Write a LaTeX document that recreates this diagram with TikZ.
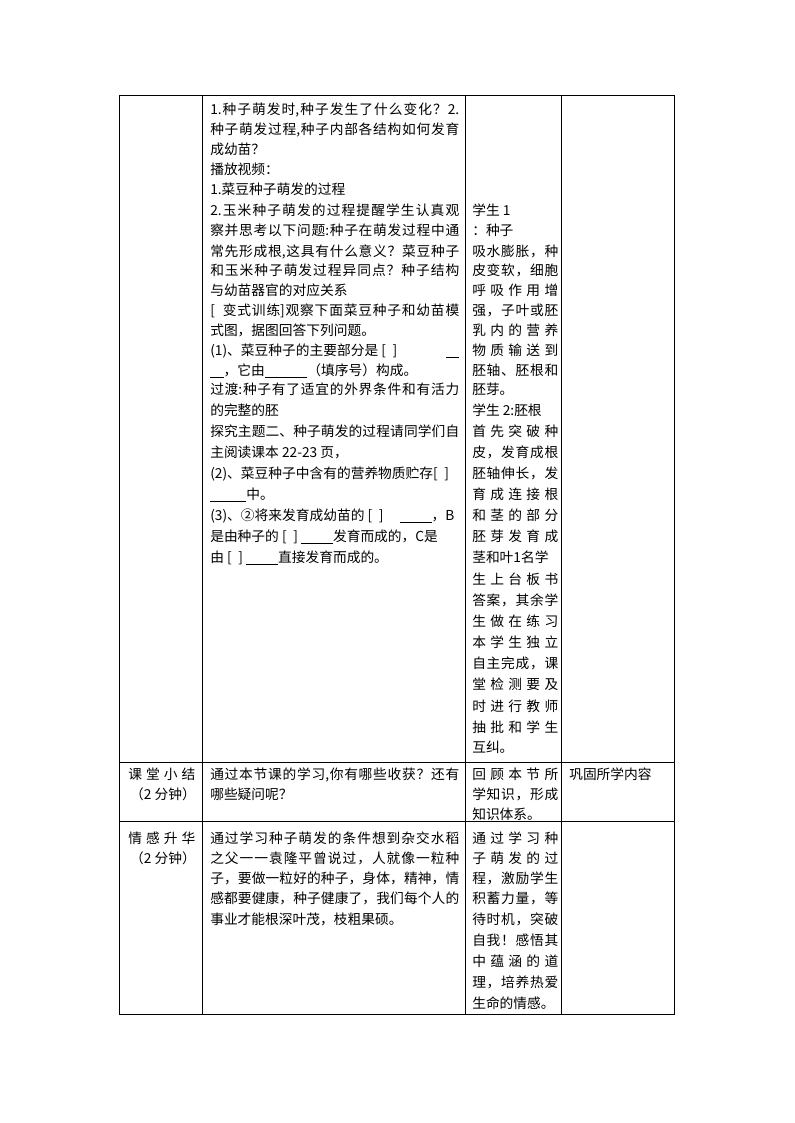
\documentclass[tikz,border=0pt]{standalone}
\usepackage{fontspec}
\setmainfont{Noto Sans CJK SC}
\makeatletter
\def\Spr#1{\Spr@b#1\@nil}
\def\Spr@b#1{#1\Spr@a}
\def\Spr@a#1{\ifx\@nil#1\else\hfil#1\expandafter\Spr@a\fi}
\makeatother
\newcounter{tn}
\newcommand\Tx[3]{\stepcounter{tn}\edef\tname{t\number\value{tn}}\node[txt] (\tname) at (#1,#2+5) {#3};}
\newcommand\Ts[4]{\stepcounter{tn}\edef\tname{t\number\value{tn}}\node[txt] (\tname) at (#1,#2+5) {\makebox[#3][s]{\Spr{#4}}};}
\newcommand\Tc[3]{\stepcounter{tn}\edef\tname{t\number\value{tn}}\node[txt,anchor=base] (\tname) at (#1,#2+5) {#3};}
\newcommand\bl[1]{\rule[-1.8pt]{#1}{0.45pt}}
\def\Wa{50.25pt}
\def\Wb{186.75pt}
\def\Wc{64.5pt}
\begin{document}
\begin{tikzpicture}[x=0.75pt,y=-0.75pt,
  txt/.style={inner sep=0pt,anchor=base west,font=\fontsize{10.3}{12}\selectfont},
  tbl/.style={line width=0.75pt,black}]
\useasboundingbox (0,0) rectangle (794,1123);
% table frame
\draw[tbl] (119.5,96) rectangle (674,1014);
\draw[tbl] (202,96) -- (202,1014);
\draw[tbl] (465,96) -- (465,1014);
\draw[tbl] (561,96) -- (561,1014);
\draw[tbl] (119.5,762) -- (674,762);
\draw[tbl] (119.5,821) -- (674,821);
% row 1, column 2
\Ts{210}{110}{\Wb}{{1.}种子萌发{时,}种子发生了什么变化？{2.}}
\Ts{210}{129.5}{\Wb}{种子萌发过{程,}种子内部各结构如何发育}
\Tx{210}{149.5}{成幼苗？}
\Tx{210}{169.5}{播放视频：}
\Tx{210}{189.5}{1.菜豆种子萌发的过程}
\Ts{210}{210}{\Wb}{{2.}玉米种子萌发的过程提醒学生认真观}
\Ts{210}{230}{\Wb}{察并思考以下问{题:}种子在萌发过程中通}
\Ts{210}{251}{\Wb}{常先形成{根,}这具有什么意义？菜豆种子}
\Ts{210}{270}{\Wb}{和玉米种子萌发过程异同点？种子结构}
\Tx{210}{290}{与幼苗器官的对应关系}
\Ts{210}{310}{\Wb}{{[\hspace{6pt}变}式训{练]}观察下面菜豆种子和幼苗模}
\Tx{210}{330}{式图，据图回答下列问题。}
\Tx{210}{350}{\makebox[\Wb][s]{(1)、菜豆种子的主要部分是 [\hspace{5pt}]\hfill\bl{10pt}}}
\Tx{210}{370}{\bl{10pt}，它由\bl{32pt}（填序号）构成。}
\Ts{210}{389}{\Wb}{过{渡:}种子有了适宜的外界条件和有活力}
\Tx{210}{410}{的完整的胚}
\Ts{210}{431}{\Wb}{探究主题二、种子萌发的过程请同学们自}
\Tx{210}{452}{主阅读课本 22-23 页，}
\Tx{210}{473}{(2)、菜豆种子中含有的营养物质贮存[\hspace{5pt}]}
\Tx{210}{494}{\bl{27pt}中。}
\Tx{210}{515}{(3)、②将来发育成幼苗的 [\hspace{5pt}]\hspace{12pt}\bl{24pt}，B}
\Tx{210}{536}{是由种子的 [\hspace{5pt}] \bl{24pt}发育而成的，C是}
\Tx{210}{557}{由 [\hspace{5pt}] \bl{24pt}直接发育而成的。}
% row 1, column 3
\Tx{472}{210}{学生 1}
\Tx{472}{230}{：种子}
\Ts{472}{251}{\Wc}{吸水膨胀，种}
\Ts{472}{270}{\Wc}{皮变软，细胞}
\Ts{472}{290}{\Wc}{呼吸作用增}
\Ts{472}{310}{\Wc}{强，子叶或胚}
\Ts{472}{330}{\Wc}{乳内的营养}
\Ts{472}{350}{\Wc}{物质输送到}
\Ts{472}{370}{\Wc}{胚轴、胚根和}
\Tx{472}{389}{胚芽。}
\Tx{472}{410}{学生 2:胚根}
\Ts{472}{431}{\Wc}{首先突破种}
\Ts{472}{452}{\Wc}{皮，发育成根}
\Ts{472}{473}{\Wc}{胚轴伸长，发}
\Ts{472}{494}{\Wc}{育成连接根}
\Ts{472}{515}{\Wc}{和茎的部分}
\Ts{472}{536}{\Wc}{胚芽发育成}
\Tx{472}{557}{茎和叶1名学}
\Ts{472}{579}{\Wc}{生上台板书}
\Ts{472}{600}{\Wc}{答案，其余学}
\Ts{472}{621}{\Wc}{生做在练习}
\Ts{472}{642}{\Wc}{本学生独立}
\Ts{472}{663.5}{\Wc}{自主完成，课}
\Ts{472}{684.5}{\Wc}{堂检测要及}
\Ts{472}{706}{\Wc}{时进行教师}
\Ts{472}{727}{\Wc}{抽批和学生}
\Tx{472}{747}{互纠。}
% row 2
\Ts{128}{774}{\Wa}{课堂小结}
\Tc{163}{794}{（2 分钟）}
\Ts{210}{774}{\Wb}{通过本节课的学{习,}你有哪些收获？还有}
\Tx{210}{794}{哪些疑问呢？}
\Ts{472}{774}{\Wc}{回顾本节所}
\Ts{472}{794}{\Wc}{学知识，形成}
\Tx{472}{814}{知识体系。}
\Tx{569}{774}{巩固所学内容}
% row 3
\Ts{128}{838}{\Wa}{情感升华}
\Tc{163}{858}{（2 分钟）}
\Ts{210}{838}{\Wb}{通过学习种子萌发的条件想到杂交水稻}
\Ts{210}{858}{\Wb}{之父一一袁隆平曾说过，人就像一粒种}
\Ts{210}{878}{\Wb}{子，要做一粒好的种子，身体，精神，情}
\Ts{210}{898}{\Wb}{感都要健康，种子健康了，我们每个人的}
\Tx{210}{919}{事业才能根深叶茂，枝粗果硕。}
\Ts{472}{838}{\Wc}{通过学习种}
\Ts{472}{858}{\Wc}{子萌发的过}
\Ts{472}{878}{\Wc}{程，激励学生}
\Ts{472}{898}{\Wc}{积蓄力量，等}
\Ts{472}{919}{\Wc}{待时机，突破}
\Ts{472}{940}{\Wc}{自我！感悟其}
\Ts{472}{961}{\Wc}{中蕴涵的道}
\Ts{472}{982}{\Wc}{理，培养热爱}
\Tx{472}{1003}{生命的情感。}
\end{tikzpicture}
\end{document}
